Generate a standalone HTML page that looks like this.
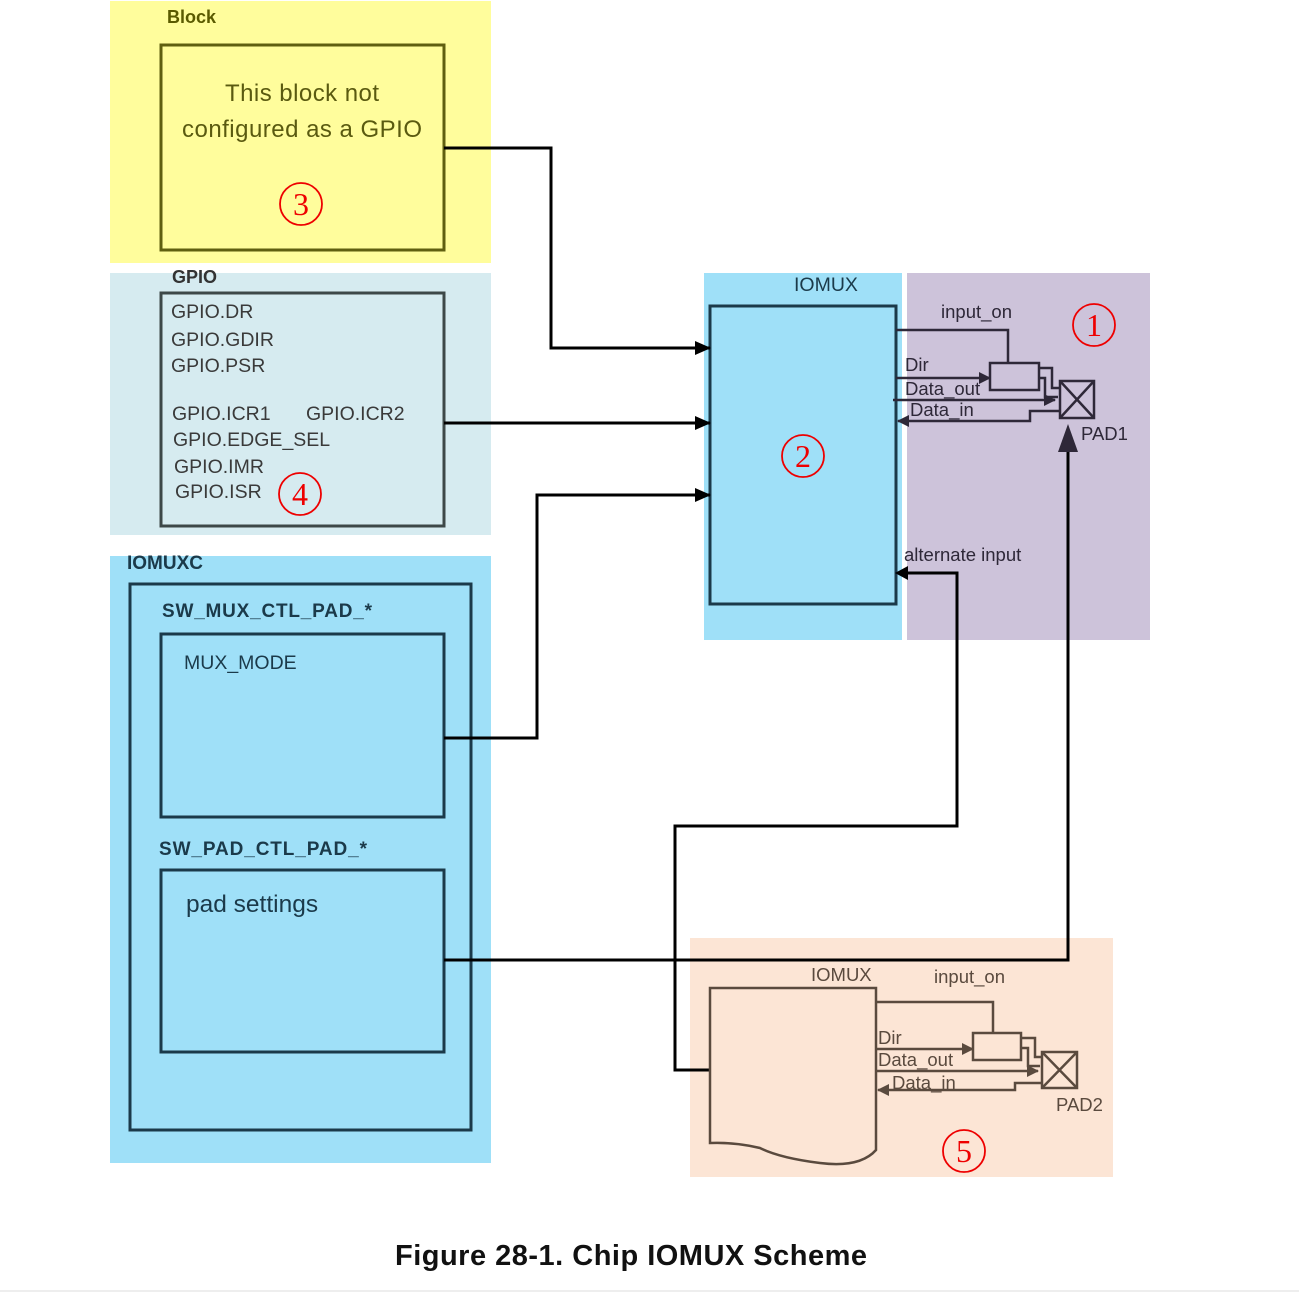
<!DOCTYPE html>
<html><head><meta charset="utf-8"><style>
html,body{margin:0;padding:0;background:#fff;}
svg{display:block;font-family:"Liberation Sans",Arial,sans-serif;}
</style></head><body>
<svg width="1299" height="1295" viewBox="0 0 1299 1295" xmlns="http://www.w3.org/2000/svg">
<defs>
<marker id="ab" markerWidth="16" markerHeight="16" refX="15" refY="8" orient="auto" markerUnits="userSpaceOnUse"><path d="M0,1 L16,8 L0,15 z" fill="#000"/></marker>
<marker id="ap" markerWidth="12" markerHeight="12" refX="11" refY="6" orient="auto" markerUnits="userSpaceOnUse"><path d="M0,0 L12,6 L0,12 z" fill="#2e2838"/></marker>
<marker id="ar" markerWidth="12" markerHeight="12" refX="11" refY="6" orient="auto" markerUnits="userSpaceOnUse"><path d="M0,0 L12,6 L0,12 z" fill="#5a4a3e"/></marker>
</defs>
<rect x="110" y="1" width="381" height="262" fill="#fffd9c"/>
<rect x="110" y="273" width="381" height="262" fill="#d6ebf0"/>
<rect x="110" y="556" width="381" height="607" fill="#9fe0f8"/>
<rect x="704" y="273" width="198" height="367" fill="#9fe0f8"/>
<rect x="907" y="273" width="243" height="367" fill="#cdc3da"/>
<rect x="690" y="938" width="423" height="239" fill="#fce5d5"/>
<line x1="0" y1="1291" x2="1299" y2="1291" stroke="#eee" stroke-width="2"/>

<g fill="none" stroke="#e00" stroke-width="1.8">
<circle cx="301" cy="204" r="21"/>
<circle cx="300" cy="494" r="21"/>
<circle cx="803" cy="456" r="21"/>
<circle cx="1094" cy="325" r="21"/>
<circle cx="964" cy="1151" r="21"/>
</g>
<g font-size="32" fill="#e00" text-anchor="middle" font-family="Liberation Serif,serif">
<text x="301" y="215">3</text>
<text x="300" y="505">4</text>
<text x="803" y="467">2</text>
<text x="1094" y="336">1</text>
<text x="964" y="1162">5</text>
</g>

<text x="167" y="23" font-size="18" font-weight="bold" fill="#5a5a00">Block</text>
<rect x="161" y="45" width="283" height="205" fill="none" stroke="#5f5f10" stroke-width="3"/>
<text x="302" y="101" font-size="24" fill="#5a5a10" text-anchor="middle" textLength="154">This block not</text>
<text x="302" y="137" font-size="24" fill="#5a5a10" text-anchor="middle" textLength="240">configured as a GPIO</text>

<text x="172" y="283" font-size="18" font-weight="bold" fill="#333">GPIO</text>
<rect x="161" y="293" width="283" height="233" fill="none" stroke="#3d4848" stroke-width="3"/>
<g font-size="19.5" fill="#3a3a3a">
<text x="171" y="318">GPIO.DR</text>
<text x="171" y="346">GPIO.GDIR</text>
<text x="171" y="372">GPIO.PSR</text>
<text x="172" y="420">GPIO.ICR1</text>
<text x="306" y="420">GPIO.ICR2</text>
<text x="173" y="446">GPIO.EDGE_SEL</text>
<text x="174" y="473">GPIO.IMR</text>
<text x="175" y="498">GPIO.ISR</text>
</g>

<text x="127" y="569" font-size="19" font-weight="bold" fill="#1b3a4a">IOMUXC</text>
<rect x="130" y="584" width="341" height="546" fill="none" stroke="#1b3a4a" stroke-width="3"/>
<text x="162" y="617" font-size="19" font-weight="bold" fill="#1b3a4a" textLength="210">SW_MUX_CTL_PAD_*</text>
<rect x="161" y="634" width="283" height="183" fill="none" stroke="#1b3a4a" stroke-width="3"/>
<text x="184" y="669" font-size="19.5" fill="#1b3a4a">MUX_MODE</text>
<text x="159" y="855" font-size="19" font-weight="bold" fill="#1b3a4a" textLength="208">SW_PAD_CTL_PAD_*</text>
<rect x="161" y="870" width="283" height="182" fill="none" stroke="#1b3a4a" stroke-width="3"/>
<text x="186" y="912" font-size="24.5" fill="#1b3a4a">pad settings</text>

<text x="794" y="291" font-size="19.5" fill="#1b3a4a">IOMUX</text>
<rect x="710" y="306" width="186" height="298" fill="none" stroke="#1b3a4a" stroke-width="3"/>

<g fill="none" stroke="#000" stroke-width="3">
<polyline points="444,148 551,148 551,348 710,348" marker-end="url(#ab)"/>
<polyline points="444,423 710,423" marker-end="url(#ab)"/>
<polyline points="444,738 537,738 537,495 710,495" marker-end="url(#ab)"/>
<polyline points="444,960 1068,960 1068,440"/>
<polyline points="906,573 957,573 957,826 675,826 675,1070 710,1070"/>
</g>
<path d="M1068,424 L1058,452 L1078,452 z" fill="#2e2838"/>
<path d="M895,573 L908,566 L908,580 z" fill="#000"/>

<g fill="none" stroke="#2e2838" stroke-width="2.5">
<polyline points="896,330 1008,330 1008,363"/>
<rect x="990" y="363" width="49" height="27"/>
<polyline points="896,378 990,378" marker-end="url(#ap)"/>
<polyline points="893,400 1055,400" marker-end="url(#ap)"/>
<polyline points="1039,368 1052,368 1052,388 1060,388"/>
<polyline points="1039,378 1045,378 1045,397 1058,397"/>
<rect x="1060" y="381" width="34" height="37"/>
<line x1="1060" y1="381" x2="1094" y2="418"/><line x1="1094" y1="381" x2="1060" y2="418"/>
<polyline points="1060,411 1030,411 1030,421 898,421" marker-end="url(#ap)"/>
</g>
<g font-size="18.5" fill="#2e2838">
<text x="941" y="318">input_on</text>
<text x="905" y="371">Dir</text>
<text x="905" y="395">Data_out</text>
<text x="910" y="416">Data_in</text>
<text x="1081" y="440">PAD1</text>
<text x="904" y="561">alternate input</text>
</g>

<g fill="none" stroke="#5a4a3e" stroke-width="2.5">
<path d="M710,1070 L710,988 L876,988 L876,1150 Q860,1168 820,1163 Q780,1158 760,1148 Q735,1142 710,1143 Z"/>
<polyline points="876,1002 993,1002 993,1033"/>
<rect x="973" y="1033" width="48" height="27"/>
<polyline points="876,1049 973,1049" marker-end="url(#ar)"/>
<polyline points="876,1071 1038,1071" marker-end="url(#ar)"/>
<polyline points="1021,1038 1035,1038 1035,1057 1042,1057"/>
<polyline points="1021,1048 1028,1048 1028,1066 1040,1066"/>
<rect x="1042" y="1052" width="35" height="36"/>
<line x1="1042" y1="1052" x2="1077" y2="1088"/><line x1="1077" y1="1052" x2="1042" y2="1088"/>
<polyline points="1042,1083 1015,1083 1015,1090 878,1090" marker-end="url(#ar)"/>
</g>
<g font-size="18.5" fill="#5a4a3e">
<text x="811" y="981">IOMUX</text>
<text x="934" y="983">input_on</text>
<text x="878" y="1044">Dir</text>
<text x="878" y="1066">Data_out</text>
<text x="892" y="1089">Data_in</text>
<text x="1056" y="1111">PAD2</text>
</g>

<text x="631" y="1265" font-size="29" font-weight="bold" fill="#111" text-anchor="middle" textLength="472">Figure 28-1. Chip IOMUX Scheme</text>
</svg>
</body></html>
